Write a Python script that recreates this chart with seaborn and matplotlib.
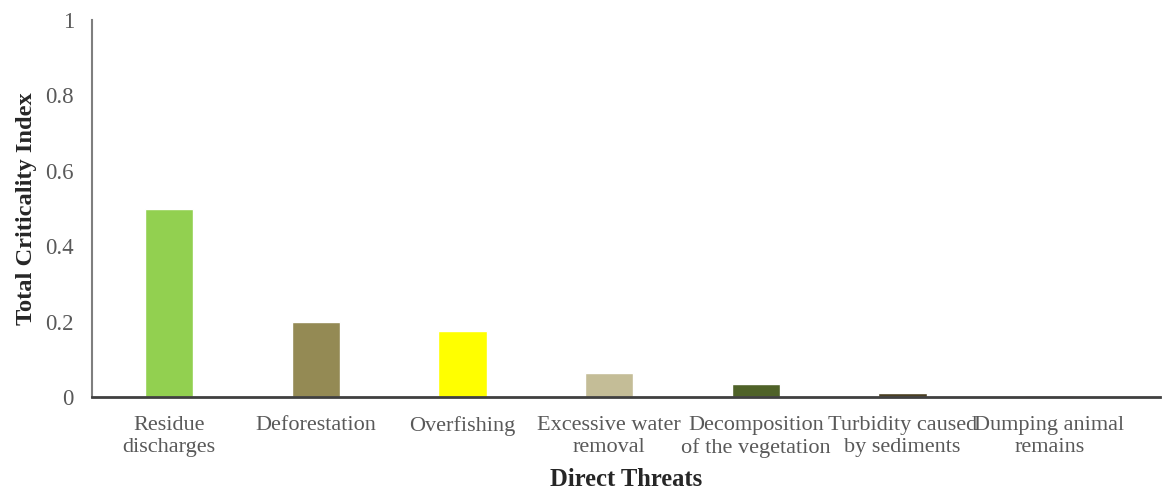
import matplotlib
matplotlib.use("Agg")
import matplotlib.pyplot as plt
import seaborn as sns
import pandas as pd

categories = ["Residue\ndischarges", "Deforestation", "Overfishing", "Excessive water\nremoval",
              "Decomposition\nof the vegetation", "Turbidity caused\nby sediments", "Dumping animal\nremains"]
values = [0.50, 0.20, 0.175, 0.064, 0.034, 0.011, 0.004]
colors = ["#92D050", "#948A54", "#FFFF00", "#C4BD97", "#4F6228", "#4A3F22", "#F2DCDB"]
yticks = [0, 0.2, 0.4, 0.6, 0.8, 1]
ytick_labels = ["0", "0.2", "0.4", "0.6", "0.8", "1"]

sns.set_theme(style="white")
plt.rcParams["font.family"] = ["Liberation Serif", "DejaVu Serif"]

df = pd.DataFrame({"cat": categories, "val": values})

fig = plt.figure(figsize=(11.63, 4.92), dpi=100)
ax = fig.add_axes([92 / 1163, 1 - 397 / 492, (1160 - 92) / 1163, (397 - 20) / 492])
sns.barplot(data=df, x="cat", y="val", hue="cat", palette=colors, width=0.33,
            legend=False, ax=ax, saturation=1)

ax.set_ylim(0, 1)
ax.set_xlim(-0.525, 6.755)
ax.set_yticks(yticks)
ax.set_yticklabels(ytick_labels)
ax.tick_params(axis="y", length=0, labelsize=16.5, colors="#595959", pad=13)
ax.tick_params(axis="x", length=0, labelsize=16, colors="#595959", pad=13.5)
for lab in ax.get_xticklabels():
    lab.set_linespacing(1.22)

ax.set_xlabel("Direct Threats", fontsize=17.7, fontweight="bold", color="#262626", labelpad=7.5)
ax.set_ylabel("Total Criticality Index", fontsize=17.6, fontweight="bold", color="#262626", labelpad=6)

for s in ["top", "right"]:
    ax.spines[s].set_visible(False)
ax.spines["left"].set_color("#7f7f7f")
ax.spines["left"].set_linewidth(1.5)
ax.spines["bottom"].set_color("#404040")
ax.spines["bottom"].set_linewidth(2)

fig.savefig("out.png", dpi=100)
